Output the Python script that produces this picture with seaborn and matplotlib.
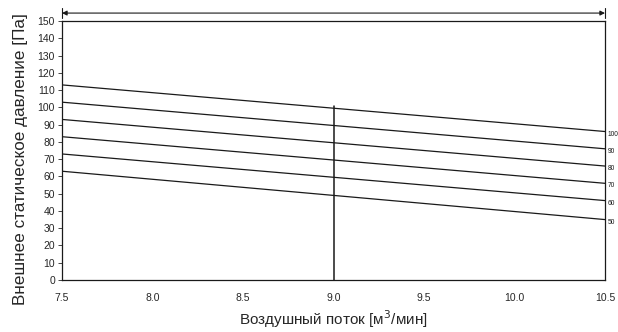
import matplotlib
matplotlib.use("Agg")
import matplotlib.pyplot as plt
import seaborn as sns
import pandas as pd
import numpy as np

# Data
airflow = [7.5, 10.5]
curve_labels = ["100", "90", "80", "70", "60", "50"]
pressure_start = [113, 103, 93, 83, 73, 63]
pressure_end = [86, 76, 66, 56, 46, 35]
marker_x = 9.0
marker_top = 101
x_ticks = [7.5, 8.0, 8.5, 9.0, 9.5, 10.0, 10.5]
y_ticks = list(range(0, 151, 10))

rows = []
for lab, s, e in zip(curve_labels, pressure_start, pressure_end):
    rows.append({"curve": lab, "x": airflow[0], "y": s})
    rows.append({"curve": lab, "x": airflow[1], "y": e})
df = pd.DataFrame(rows)

sns.set_style("white")
plt.rcParams['font.family'] = ['Liberation Sans', 'DejaVu Sans']

fig = plt.figure(figsize=(6.18, 3.32), dpi=100)
ax = fig.add_axes([0.1003, 0.1566, 0.979 - 0.1003, 0.9367 - 0.1566])

sns.lineplot(data=df, x="x", y="y", units="curve", estimator=None,
             color="#1a1a1a", linewidth=0.9, ax=ax, legend=False)
ax.plot([marker_x, marker_x], [0, marker_top], color="#1a1a1a", linewidth=1.1)

ax.set_xlim(7.5, 10.5)
ax.set_ylim(0, 150)
ax.set_xticks(x_ticks)
ax.set_xticklabels([f"{v:.1f}" for v in x_ticks], fontsize=7.5)
ax.set_yticks(y_ticks)
ax.set_yticklabels([str(v) for v in y_ticks], fontsize=7.5)
ax.tick_params(axis='y', direction='out', length=3, width=0.6, pad=2, left=True)
ax.tick_params(axis='x', length=0, pad=9)

for sp in ax.spines.values():
    sp.set_color("#1a1a1a")
    sp.set_linewidth(0.9)

# right-side labels
for lab, e in zip(curve_labels, pressure_end):
    ax.text(10.5 + 0.015, e - 1.5, lab, fontsize=4.8, va="center", ha="left",
            clip_on=False, color="#1a1a1a")

# top arrow
ax.annotate("", xy=(10.5, 154.6), xytext=(7.5, 154.6),
            arrowprops=dict(arrowstyle="<|-|>", color="#1a1a1a", lw=0.8,
                            shrinkA=0, shrinkB=0, mutation_scale=7),
            annotation_clip=False)
for xv in (7.5, 10.5):
    ax.plot([xv, xv], [151.5, 157.5], color="#1a1a1a", linewidth=0.8, clip_on=False)

ax.set_xlabel("Воздушный поток [м$^3$/мин]", fontsize=11, labelpad=4)
ax.set_ylabel("Внешнее статическое давление [Па]", fontsize=12.3)
ax.yaxis.set_label_coords(-0.063, 0.467)

fig.savefig("out.png", dpi=100)
